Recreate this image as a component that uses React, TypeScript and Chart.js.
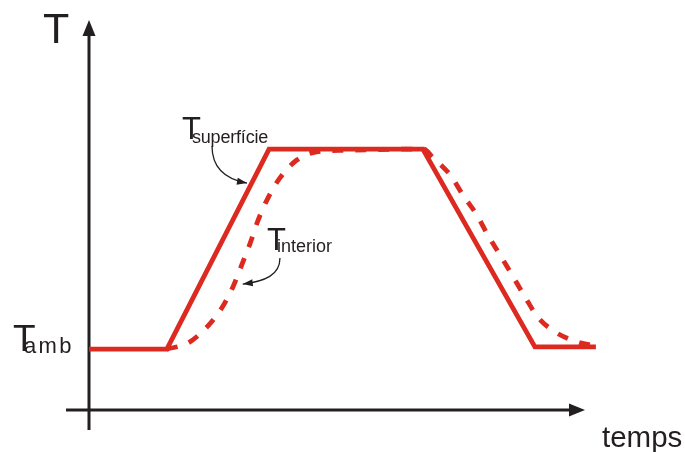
import React, { useEffect, useRef } from "react";
import { Chart, registerables } from "chart.js";

Chart.register(...registerables);

// time (arbitrary units) and temperature (arbitrary units)
const surfaceTime = [0, 15.7, 36.3, 67.3, 89.9, 102.2];
const surfaceTemp = [15.6, 15.6, 66.9, 66.9, 16.2, 16.2];

const interiorTime = [15.7, 20.0, 23.8, 26.8, 29.0, 30.8, 32.5, 34.1, 36.1, 38.5, 41.9, 45.9, 51.6, 67.5, 69.2, 72.8, 75.4, 78.2, 80.4, 82.9, 85.3, 87.9, 90.5, 94.0, 98.6, 102.2];
const interiorTemp = [15.6, 17.2, 21.3, 26.2, 31.5, 37.2, 42.8, 48.7, 54.4, 59.5, 64.1, 66.2, 66.6, 66.9, 64.9, 60.3, 55.1, 50.0, 44.9, 39.7, 34.6, 29.0, 23.8, 20.0, 17.4, 16.4];

const axisTitleY = "T";
const axisTitleX = "temps";
const ambientMain = "T";
const ambientSub = "amb";
const surfaceMain = "T";
const surfaceSub = "superfície";
const interiorMain = "T";
const interiorSub = "interior";

const RED = "#dd2a21";
const INK = "#231f20";
const FONT = "'Liberation Sans', Arial, Helvetica, sans-serif";

const toXY = (xs: number[], ys: number[]) => xs.map((x, i) => ({ x, y: ys[i] }));

const decorPlugin = {
  id: "decor",
  beforeDatasetsDraw(chart: any) {
    const { ctx, chartArea } = chart;
    const { left, right, top, bottom } = chartArea;
    ctx.save();
    ctx.strokeStyle = INK;
    ctx.fillStyle = INK;
    ctx.lineWidth = 3;
    // y axis
    ctx.beginPath();
    ctx.moveTo(left, top + 14);
    ctx.lineTo(left, bottom + 20);
    ctx.stroke();
    ctx.beginPath();
    ctx.moveTo(left, top);
    ctx.lineTo(left - 6.5, top + 16);
    ctx.lineTo(left + 6.5, top + 16);
    ctx.closePath();
    ctx.fill();
    // x axis
    ctx.beginPath();
    ctx.moveTo(left - 23, bottom);
    ctx.lineTo(right - 14, bottom);
    ctx.stroke();
    ctx.beginPath();
    ctx.moveTo(right, bottom);
    ctx.lineTo(right - 16, bottom - 6.5);
    ctx.lineTo(right - 16, bottom + 6.5);
    ctx.closePath();
    ctx.fill();
    ctx.restore();
  },
  afterDraw(chart: any) {
    const { ctx, chartArea, scales } = chart;
    const { left, right, top, bottom } = chartArea;
    const xs = scales.x;
    const ys = scales.y;
    const px = (v: number) => xs.getPixelForValue(v);
    const py = (v: number) => ys.getPixelForValue(v);
    ctx.save();
    ctx.fillStyle = INK;
    ctx.strokeStyle = INK;
    ctx.textBaseline = "alphabetic";
    ctx.textAlign = "left";

    const sub = (main: string, s: string, x: number, y: number, ms: number, ss: number, dx: number, dy: number, sp: number) => {
      ctx.font = `${ms}px ${FONT}`;
      (ctx as any).letterSpacing = "0px";
      ctx.fillText(main, x, y);
      ctx.font = `${ss}px ${FONT}`;
      (ctx as any).letterSpacing = `${sp}px`;
      ctx.fillText(s, x + dx, y + dy);
      (ctx as any).letterSpacing = "0px";
    };

    // axis titles
    ctx.font = `43px ${FONT}`;
    ctx.fillText(axisTitleY, left - 46, top + 23);
    ctx.font = `29.5px ${FONT}`;
    ctx.fillText(axisTitleX, right + 17, bottom + 37);

    // ambient label
    sub(ambientMain, ambientSub, left - 76, py(surfaceTemp[0]) + 2, 37, 22, 11, 2, 2.3);

    // line labels
    sub(surfaceMain, surfaceSub, px(18.75), py(69.5), 31, 18, 10, 4, -0.2);
    sub(interiorMain, interiorSub, px(35.9), py(41.0), 31, 18, 10, 2, 0);

    // curved pointer arrows
    const arrow = (p: number[][]) => {
      const [s, c1, c2, e] = p.map(([a, b]) => [px(a), py(b)]);
      ctx.lineWidth = 1.3;
      ctx.beginPath();
      ctx.moveTo(s[0], s[1]);
      ctx.bezierCurveTo(c1[0], c1[1], c2[0], c2[1], e[0], e[1]);
      ctx.stroke();
      const ang = Math.atan2(e[1] - c2[1], e[0] - c2[0]);
      const L = 10, W = 3.5;
      ctx.beginPath();
      ctx.moveTo(e[0], e[1]);
      ctx.lineTo(e[0] - L * Math.cos(ang) + W * Math.sin(ang), e[1] - L * Math.sin(ang) - W * Math.cos(ang));
      ctx.lineTo(e[0] - L * Math.cos(ang) - W * Math.sin(ang), e[1] - L * Math.sin(ang) + W * Math.cos(ang));
      ctx.closePath();
      ctx.fill();
    };
    arrow([[24.8, 67.7], [24.8, 62.8], [27.0, 59.3], [31.85, 58.2]]);
    arrow([[38.5, 39.0], [38.5, 34.6], [35.5, 33.0], [31.0, 32.3]]);
    ctx.restore();
  },
};

export default function App() {
  const ref = useRef<HTMLCanvasElement | null>(null);
  useEffect(() => {
    if (!ref.current) return;
    const chart = new Chart(ref.current, {
      type: "line",
      data: {
        datasets: [
          {
            label: "Tsuperfície",
            data: toXY(surfaceTime, surfaceTemp),
            borderColor: RED,
            borderWidth: 4.8,
            pointRadius: 0,
            tension: 0,
            borderJoinStyle: "miter",
            borderCapStyle: "butt",
            clip: false,
          } as any,
          {
            label: "Tinterior",
            data: toXY(interiorTime, interiorTemp),
            borderColor: RED,
            borderWidth: 4.8,
            borderDash: [11, 12],
            pointRadius: 0,
            cubicInterpolationMode: "monotone",
            borderCapStyle: "butt",
            clip: false,
          } as any,
        ],
      },
      options: {
        animation: false,
        responsive: true,
        maintainAspectRatio: false,
        layout: { padding: { left: 89, right: 100, top: 20, bottom: 42 } },
        scales: {
          x: { type: "linear", min: 0, max: 100, display: false },
          y: { type: "linear", min: 0, max: 100, display: false },
        },
        plugins: { legend: { display: false }, tooltip: { enabled: false } },
      },
      plugins: [decorPlugin],
    });
    return () => chart.destroy();
  }, []);
  return (
    <div style={{ position: "fixed", left: 0, top: 0, width: 685, height: 452, background: "#fff" }}>
      <canvas ref={ref} />
    </div>
  );
}
